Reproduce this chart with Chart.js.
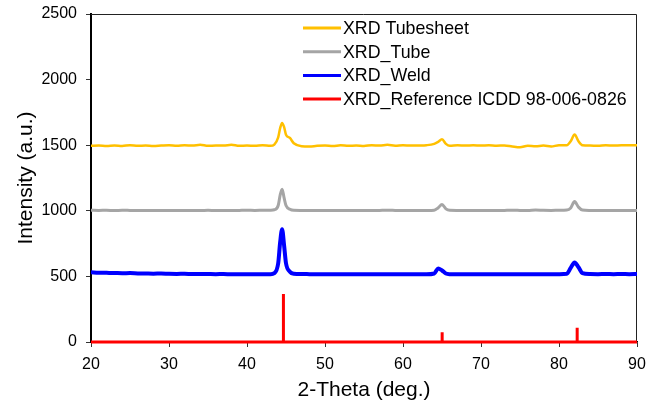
<!DOCTYPE html>
<html>
<head>
<meta charset="utf-8">
<script src="https://cdn.jsdelivr.net/npm/chart.js@4.4.1/dist/chart.umd.min.js"></script>
<style>
  html, body { margin: 0; padding: 0; background: #fff; }
  #wrap { width: 656px; height: 403px; position: relative; }
</style>
</head>
<body>
<div id="wrap"><canvas id="chartXRD"></canvas></div>
<script>
// 2-theta positions shared by the three measured patterns
const twoTheta = [
  20, 21, 22, 23, 24, 25, 26, 27, 28, 29, 30, 31, 32, 33, 34, 35, 36, 37, 38, 39, 40, 41, 42, 43,
  43.5, 44, 44.25, 44.5, 44.75, 45, 45.5, 46,
  47, 48, 49, 50, 51, 52, 53, 54, 55, 56, 57, 58, 59, 60, 61, 62, 63,
  64, 64.5, 65, 65.5, 66,
  67, 68, 69, 70, 71, 72, 73, 74, 75, 76, 77, 78, 79, 80,
  81, 81.5, 82, 82.5, 83,
  84, 85, 86, 87, 88, 89, 90
];

const tubesheet = [
  1495, 1497, 1493, 1497, 1494, 1500, 1495, 1497, 1493, 1497, 1500, 1495, 1500, 1497, 1503, 1495, 1498, 1497, 1503, 1495, 1497, 1495, 1500, 1495,
  1505, 1560, 1630, 1670, 1640, 1580, 1555, 1515,
  1492, 1490, 1495, 1497, 1493, 1500, 1495, 1497, 1494, 1500, 1497, 1503, 1496, 1500, 1497, 1498, 1500,
  1510, 1525, 1545, 1510, 1495,
  1500, 1497, 1500, 1497, 1500, 1496, 1498, 1490, 1484, 1495, 1492, 1497, 1490, 1500,
  1500, 1530, 1582, 1530, 1500,
  1497, 1495, 1500, 1497, 1500, 1500, 1500
];

const tube = [
  1005, 1003, 1004, 1002, 1004, 1003, 1002, 1003, 1002, 1003, 1002, 1003, 1002, 1003, 1002, 1004, 1002, 1003, 1002, 1003, 1004, 1003, 1004, 1005,
  1008, 1040, 1120, 1165, 1100, 1040, 1012, 1004,
  1003, 1002, 1003, 1002, 1003, 1002, 1003, 1002, 1003, 1002, 1003, 1004, 1003, 1002, 1003, 1002, 1003,
  1005, 1022, 1048, 1015, 1004,
  1003, 1002, 1003, 1002, 1003, 1002, 1003, 1004, 1003, 1002, 1006, 1004, 1003, 1004,
  1006, 1022, 1070, 1028, 1006,
  1003, 1002, 1003, 1002, 1003, 1002, 1003
];

const weld = [
  532, 528, 527, 526, 524, 525, 523, 522, 521, 522, 520, 519, 520, 518, 519, 518, 517, 518, 516, 517, 516, 517, 516, 517,
  525, 600, 760, 860, 740, 600, 535, 520,
  518, 517, 516, 517, 516, 517, 516, 517, 516, 517, 516, 517, 516, 517, 516, 517, 516,
  522, 560, 545, 522, 517,
  516, 517, 516, 517, 516, 517, 516, 517, 516, 517, 516, 517, 516, 517,
  520, 565, 605, 570, 525,
  518, 517, 518, 517, 518, 517, 518
];

// ICDD 98-006-0826 reference sticks
const refPos = [44.67, 65.02, 82.33];
const refInt = [365, 75, 108];

const seriesNames = ['XRD Tubesheet', 'XRD_Tube', 'XRD_Weld', 'XRD_Reference ICDD 98-006-0826'];
const seriesColors = ['#ffc000', '#a5a5a5', '#0000ff', '#ff0000'];

const FONT = '"Liberation Sans", Arial, sans-serif';

const toPoints = (ys) => twoTheta.map((x, i) => ({ x, y: ys[i] }));

function refPoints() {
  const pts = [{ x: 20, y: 0 }];
  refPos.forEach((p, i) => {
    pts.push({ x: p, y: 0 }, { x: p, y: refInt[i] }, { x: p, y: 0 });
  });
  pts.push({ x: 90, y: 0 });
  return pts;
}

// legend drawn inside the plot, top right
const insideLegend = {
  id: 'insideLegend',
  afterDatasetsDraw(chart) {
    const { ctx, chartArea } = chart;
    const x0 = chartArea.left + 212;
    ctx.save();
    ctx.font = '17.8px ' + FONT;
    ctx.textBaseline = 'middle';
    chart.data.datasets.forEach((ds, i) => {
      const y = chartArea.top + 14 + i * 23.7;
      ctx.strokeStyle = ds.borderColor;
      ctx.lineWidth = 3;
      ctx.beginPath();
      ctx.moveTo(x0, y);
      ctx.lineTo(x0 + 38, y);
      ctx.stroke();
      ctx.fillStyle = '#000';
      ctx.fillText(ds.label, x0 + 40, y + 1);
    });
    ctx.restore();
  }
};

// thin frame on top and right
const frame = {
  id: 'frame',
  beforeDatasetsDraw(chart) {
    const { ctx, chartArea: a } = chart;
    ctx.save();
    ctx.strokeStyle = '#222';
    ctx.lineWidth = 1;
    ctx.beginPath();
    ctx.moveTo(a.left, a.top + 0.5);
    ctx.lineTo(a.right - 0.5, a.top + 0.5);
    ctx.lineTo(a.right - 0.5, a.bottom);
    ctx.stroke();
    ctx.restore();
  }
};

const lineStyle = { fill: false, tension: 0.4, cubicInterpolationMode: 'monotone', pointRadius: 0 };
const plainTick = (v) => String(v);

new Chart(document.getElementById('chartXRD'), {
  type: 'line',
  data: {
    datasets: [
      { ...lineStyle, label: seriesNames[0], data: toPoints(tubesheet), borderColor: seriesColors[0], borderWidth: 2.5 },
      { ...lineStyle, label: seriesNames[1], data: toPoints(tube), borderColor: seriesColors[1], borderWidth: 3 },
      { ...lineStyle, label: seriesNames[2], data: toPoints(weld), borderColor: seriesColors[2], borderWidth: 4 },
      { fill: false, tension: 0, pointRadius: 0, clip: false, label: seriesNames[3], data: refPoints(), borderColor: seriesColors[3], borderWidth: 3 }
    ]
  },
  options: {
    responsive: true,
    maintainAspectRatio: false,
    animation: false,
    layout: { padding: { left: 0, right: 19, top: 14, bottom: 0 } },
    plugins: {
      legend: { display: false },
      tooltip: { enabled: false }
    },
    scales: {
      x: {
        type: 'linear',
        min: 20,
        max: 90,
        ticks: { stepSize: 10, color: '#000', font: { family: FONT, size: 16 }, padding: 8, callback: plainTick },
        grid: { drawOnChartArea: false, tickLength: 5, color: '#333' },
        border: { color: '#000', width: 1.5 },
        title: { display: true, text: '2-Theta (deg.)', color: '#000', font: { family: FONT, size: 21 }, padding: { top: 0, bottom: 0 } },
        afterFit(s) { s.height = 61; s.paddingLeft = 0; s.paddingRight = 0; }
      },
      y: {
        min: 0,
        max: 2500,
        ticks: { stepSize: 500, color: '#000', font: { family: FONT, size: 16 }, padding: 9, callback: plainTick },
        grid: { drawOnChartArea: false, tickLength: 5, color: '#333' },
        border: { color: '#000', width: 2 },
        title: { display: true, text: 'Intensity (a.u.)', color: '#000', font: { family: FONT, size: 21 }, padding: { top: 14, bottom: 14 } },
        afterFit(s) { s.width = 91; s.paddingTop = 0; s.paddingBottom = 0; }
      }
    }
  },
  plugins: [frame, insideLegend]
});
</script>
</body>
</html>
